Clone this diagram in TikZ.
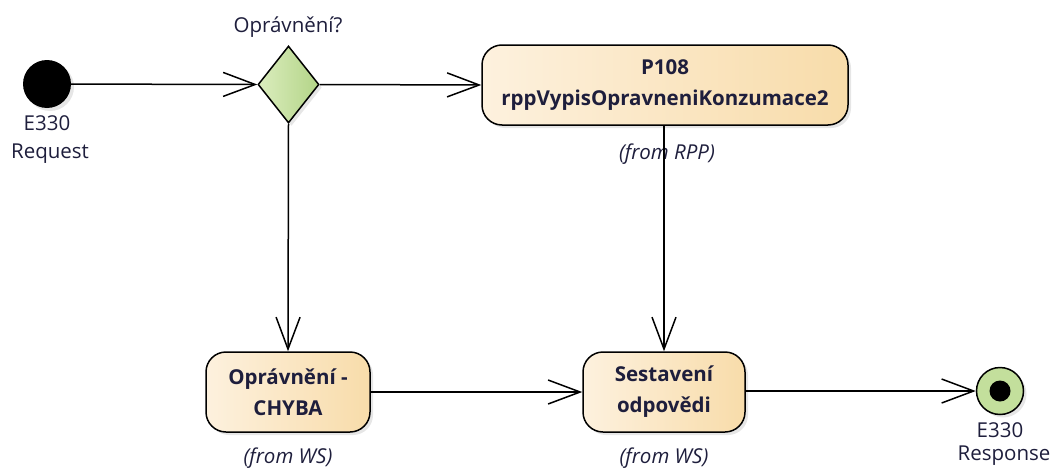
\documentclass[tikz,border=0pt]{standalone}
\usepackage{fontspec}
\setmainfont{Open Sans}
\usepackage{xcolor}
\usetikzlibrary{shapes,arrows.meta,positioning,calc,shadows}

\definecolor{boxL}{HTML}{FDF1DE}
\definecolor{boxR}{HTML}{F8DCAA}
\definecolor{decL}{HTML}{DBEDBE}
\definecolor{decR}{HTML}{B3D487}
\definecolor{endG}{HTML}{C3DF9C}
\definecolor{txt}{HTML}{1E1E3C}

\begin{document}
\begin{tikzpicture}[x=1pt, y=-1pt,
    every node/.style={font=\fontsize{20.5}{31}\selectfont, text=txt, inner sep=0pt},
    shade/.style={drop shadow={shadow xshift=3pt, shadow yshift=-3pt, opacity=0.2}},
    action/.style={draw, line width=1.5pt, rounded corners=20pt, left color=boxL, right color=boxR,
        align=center, font=\fontsize{20.5}{31}\selectfont\bfseries, minimum height=80pt, shade},
    origin/.style={font=\fontsize{20.5}{31}\selectfont\itshape},
    flow/.style={line width=1.5pt, -{Straight Barb[length=32pt, width=24pt, line width=1.5pt]}}]
    \useasboundingbox (0, 0) rectangle (1052, 471);

    % start and decision
    \node[circle, fill=black, minimum size=48pt, shade] (start) at (47, 84) {};
    \node (startA) at (47, 123) {E330};
    \node (startB) at (50, 154) {Request};

    \node[diamond, draw, line width=1.5pt, left color=decL, right color=decR,
          minimum width=61pt, minimum height=77pt, aspect=0.79, shade] (dec) at (288.5, 84.5) {};
    \node (decLbl) at (288, 27) {Oprávnění?};

    % actions
    \node[action, minimum width=366pt] (p108) at (665, 85) {P108\\rppVypisOpravneniKonzumace2};
    \node[origin] (p108from) at (667, 154) {(from RPP)};

    \node[action, minimum width=164pt] (chyba) at (288, 392) {Oprávnění -\\CHYBA};
    \node[origin] (chybafrom) at (288, 458) {(from WS)};

    \node[action, minimum width=162pt] (sest) at (664, 392) {Sestavení\\odpovědi};
    \node[origin] (sestfrom) at (664, 458) {(from WS)};

    % final node
    \node[circle, draw, line width=1.5pt, fill=endG, minimum size=47pt, shade] (final) at (1000, 391) {};
    \node[circle, fill=black, minimum size=21pt] (finalDot) at (final) {};
    \node (finalA) at (1000, 430) {E330};
    \node (finalB) at (1004, 456) {Response};

    % flows
    \draw[flow] (start) -- (dec.west);
    \draw[flow] (dec.east) -- (p108.west);
    \draw[flow] (dec.south) -- (chyba.north);
    \draw[flow] (p108.south -| sest.north) -- (sest.north);
    \draw[flow] (chyba.east) -- (sest.west);
    \draw[flow] (sest.east |- final) -- (final.west);
\end{tikzpicture}
\end{document}
